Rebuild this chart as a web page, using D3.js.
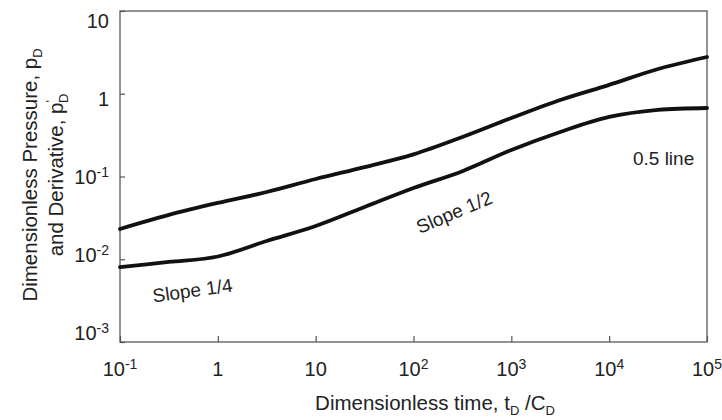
<!DOCTYPE html>
<html>
<head>
<meta charset="utf-8">
<script src="https://cdn.jsdelivr.net/npm/d3@7"></script>
<style>
  body { margin: 0; background: #fff; }
  text { font-family: "Liberation Sans", Arial, sans-serif; fill: #222; }
</style>
</head>
<body>
<svg id="chart" width="722" height="420"></svg>
<script>
// dimensionless time t_D/C_D
var time = [0.1, 0.316, 1, 3.16, 10, 31.6, 100, 316, 1000, 3162, 10000, 31623, 100000];
// pressure p_D and derivative p'_D
var pressure = [0.0232, 0.0343, 0.0479, 0.065, 0.0933, 0.13, 0.185, 0.3, 0.509, 0.84, 1.28, 1.99, 2.78];
var derivative = [0.00805, 0.00927, 0.0108, 0.0166, 0.0252, 0.0428, 0.0726, 0.116, 0.209, 0.345, 0.524, 0.637, 0.673];

var xTicks = [0.1, 1, 10, 100, 1000, 10000, 100000];
var xTickBase = ['10', '1', '10', '10', '10', '10', '10'];
var xTickExp = ['-1', '', '', '2', '3', '4', '5'];
var yTicks = [10, 1, 0.1, 0.01, 0.001];
var yTickBase = ['10', '1', '10', '10', '10'];
var yTickExp = ['', '', '-1', '-2', '-3'];

var notes = [
  {text: 'Slope 1/4', t: 0.55, p: 0.0042, angle: -8},
  {text: 'Slope 1/2', t: 260, p: 0.037, angle: -23},
  {text: '0.5 line', t: 36000, p: 0.165, angle: 0}
];

var svg = d3.select('#chart');
var plot = {left: 120, right: 707, top: 11, bottom: 342};

var x = d3.scaleLog().domain([0.1, 100000]).range([plot.left, plot.right]);
var y = d3.scaleLog().domain([0.001, 10]).range([plot.bottom, plot.top]);
// tick labels sit on a slightly tighter spacing than the ticks
var yLab = d3.scaleLog().domain([0.001, 10]).range([336, 24]);

// frame
svg.append('rect')
  .attr('x', plot.left).attr('y', plot.top)
  .attr('width', plot.right - plot.left).attr('height', plot.bottom - plot.top)
  .attr('fill', 'none').attr('stroke', '#666').attr('stroke-width', 1.4);

// inward ticks
svg.append('g')
  .attr('transform', 'translate(0,' + plot.bottom + ')')
  .call(d3.axisBottom(x).tickValues(xTicks).tickSize(-6).tickFormat(''))
  .call(function(g) {
    g.select('.domain').remove();
    g.selectAll('line').attr('stroke', '#555').attr('stroke-width', 1.2);
  });

svg.append('g')
  .attr('transform', 'translate(' + plot.left + ',0)')
  .call(d3.axisLeft(y).tickValues(yTicks).tickSize(-5).tickFormat(''))
  .call(function(g) {
    g.select('.domain').remove();
    g.selectAll('line').attr('stroke', '#555').attr('stroke-width', 1.2);
  });

// tick labels with superscript powers
var xl = svg.append('g').selectAll('text')
  .data(xTicks)
  .enter().append('text')
  .attr('x', function(d) { return x(d); })
  .attr('y', 376)
  .attr('text-anchor', 'middle')
  .style('font-size', '20px');
xl.append('tspan').text(function(d, i) { return xTickBase[i]; });
xl.append('tspan')
  .attr('dy', -7).style('font-size', '14px')
  .text(function(d, i) { return xTickExp[i]; });

var yl = svg.append('g').selectAll('text')
  .data(yTicks)
  .enter().append('text')
  .attr('x', 109)
  .attr('y', function(d) { return yLab(d) + 4; })
  .attr('text-anchor', 'end')
  .style('font-size', '20px');
yl.append('tspan').text(function(d, i) { return yTickBase[i]; });
yl.append('tspan')
  .attr('dy', -7).style('font-size', '14px')
  .text(function(d, i) { return yTickExp[i]; });

// curves
var line = d3.line()
  .x(function(d) { return x(d[0]); })
  .y(function(d) { return y(d[1]); })
  .curve(d3.curveCatmullRom.alpha(0.5));

[pressure, derivative].forEach(function(series) {
  svg.append('path')
    .datum(d3.zip(time, series))
    .attr('d', line)
    .attr('fill', 'none')
    .attr('stroke', '#111')
    .attr('stroke-width', 3.8)
    .attr('stroke-linecap', 'round');
});

// annotations
svg.append('g').selectAll('text')
  .data(notes)
  .enter().append('text')
  .attr('transform', function(d) {
    return 'translate(' + x(d.t) + ',' + y(d.p) + ') rotate(' + d.angle + ')';
  })
  .attr('text-anchor', 'middle')
  .attr('dy', '0.35em')
  .style('font-size', '19px')
  .text(function(d) { return d.text; });

// axis titles
var xt = svg.append('text')
  .attr('x', 435).attr('y', 410)
  .attr('text-anchor', 'middle')
  .style('font-size', '20.5px');
xt.append('tspan').text('Dimensionless time, t');
xt.append('tspan').attr('dy', 5).style('font-size', '13px').text('D');
xt.append('tspan').attr('dy', -5).text(' /C');
xt.append('tspan').attr('dy', 5).style('font-size', '13px').text('D');

var yt = svg.append('g').attr('transform', 'translate(37,175) rotate(-90)');
var yt1 = yt.append('text').attr('text-anchor', 'middle').style('font-size', '20.5px');
yt1.append('tspan').text('Dimensionless Pressure, p');
yt1.append('tspan').attr('dy', 5).style('font-size', '13px').text('D');
var yt2 = yt.append('text').attr('y', 26).attr('text-anchor', 'middle').style('font-size', '20.5px');
yt2.append('tspan').text('and Derivative, p');
yt2.append('tspan').attr('dy', -8).style('font-size', '13px').text("'");
yt2.append('tspan').attr('dy', 13).attr('dx', -3).style('font-size', '13px').text('D');
</script>
</body>
</html>
